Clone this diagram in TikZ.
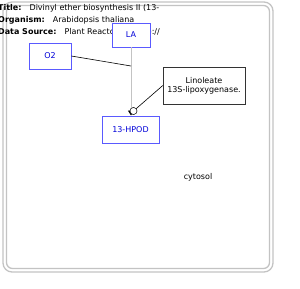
\documentclass[tikz,border=0pt]{standalone}
\usepackage{fontspec}
\setmainfont{DejaVu Sans}
\usetikzlibrary{arrows.meta,positioning}
\definecolor{entblue}{RGB}{90,90,255}
\definecolor{celgray}{RGB}{195,195,195}

\begin{document}
\begin{tikzpicture}[
    x=1pt,y=-1pt,
    every node/.style={font=\fontsize{8}{9.4}\selectfont,align=center},
    entidade/.style={draw=entblue,fill=white,text=blue!85!black,semithick,
      inner sep=0pt},
    enzima/.style={draw=black!80,fill=white,inner sep=0pt},
    legenda/.style={anchor=west,inner sep=0pt},
    reacao/.style={celgray,thick},
    ligacao/.style={black,semithick}
  ]
    \useasboundingbox (0,0) rectangle (300,289);
    % celula (cytosol)
    \draw[celgray,line width=1.3pt,rounded corners=9pt] (3,2) rectangle (273,272);
    \draw[celgray,line width=1.3pt,rounded corners=6pt] (6.5,5.5) rectangle (269.5,268.5);
    \node (cytosol) at (198,177) {cytosol};

    % cabecalho
    \node[legenda] (titulo) at (-2,8)
      {\textbf{Title:}\quad Divinyl ether biosynthesis II (13-};
    \node[legenda] (organismo) at (-2,20)
      {\textbf{Organism:}\quad Arabidopsis thaliana};
    \node[legenda] (fonte) at (-2,32)
      {\textbf{Data Source:}\quad Plant Reactome\quad http://};

    % entidades
    \node[entidade,minimum width=38pt,minimum height=24pt] (la) at (131,35) {LA};
    \node[entidade,minimum width=42pt,minimum height=26pt] (o2) at (50,56) {O2};
    \node[entidade,minimum width=57pt,minimum height=27pt] (hpod) at (130.5,129.5) {13-HPOD};
    \node[enzima,minimum width=82pt,minimum height=37pt] (lox) at (204,85.5)
      {Linoleate\\13S-lipoxygenase.};

    \coordinate (juncao) at (131,66);
    \node[draw=black,fill=white,circle,inner sep=0pt,minimum size=7pt] (cat) at (133.5,111) {};

    % reacao
    \draw[reacao] (la.south) -- (juncao);
    \draw[reacao,-{Triangle[length=5pt,width=6pt,black]}] (juncao) -- (131,115.5);
    \draw[ligacao] (o2.east) -- (juncao);
    \draw[ligacao] (lox.west) -- (cat);
    \node[draw=black,fill=white,circle,inner sep=0pt,minimum size=7pt] at (cat) {};
\end{tikzpicture}
\end{document}
